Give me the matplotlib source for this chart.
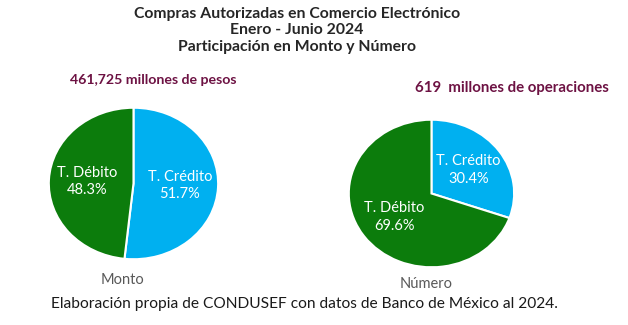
import matplotlib.pyplot as plt
import numpy as np

plt.rcParams['font.family'] = ['Lato', 'DejaVu Sans']

tipos = ["T. Crédito", "T. Débito"]
monto_pct = [51.7, 48.3]
numero_pct = [30.4, 69.6]
colores = ["#00b0f0", "#0c7c0c"]

titulo = "Compras Autorizadas en Comercio Electrónico\nEnero - Junio 2024\nParticipación en Monto y Número"
total_monto = "461,725 millones de pesos"
total_numero = "619  millones de operaciones"
fuente = "Elaboración propia de CONDUSEF con datos de Banco de México al 2024."

fig = plt.figure(figsize=(6.28, 3.25), dpi=100)
fig.patch.set_facecolor("white")


def dibujar_pie(rect, valores, nombre, pos_nombre):
    ax = fig.add_axes(rect)
    wedges, _ = ax.pie(valores, colors=colores, startangle=90, counterclock=False,
                       wedgeprops=dict(edgecolor="white", linewidth=1.5))
    ax.set_aspect("auto")
    ax.set_xlim(-1.01, 1.01)
    ax.set_ylim(-1.01, 1.01)
    for w, etiqueta, v in zip(wedges, tipos, valores):
        ang = np.deg2rad((w.theta1 + w.theta2) / 2)
        r = 0.55
        ax.text(r * np.cos(ang), r * np.sin(ang), f"{etiqueta}\n{v:.1f}%",
                ha="center", va="center", color="white", fontsize=10.5, linespacing=1.3)
    fig.text(pos_nombre[0], pos_nombre[1], nombre, ha="center", va="center",
             color="#595959", fontsize=10.5)
    return ax


dibujar_pie([0.0764, 0.2, 0.2723, 0.4708], monto_pct, "Monto", (122 / 628, 1 - 280 / 325))
dibujar_pie([0.5541, 0.1754, 0.2659, 0.4585], numero_pct, "Número", (426 / 628, 1 - 284 / 325))

fig.text(297 / 628, 1 - 30.5 / 325, titulo, ha="center", va="center", fontsize=11.3,
         fontweight="bold", color="#262626", linespacing=1.2)
fig.text(70 / 628, 1 - 80 / 325, total_monto, ha="left", va="center", fontsize=10.2,
         fontweight="bold", color="#6d1243")
fig.text(609 / 628, 1 - 88 / 325, total_numero, ha="right", va="center", fontsize=10.8,
         fontweight="bold", color="#6d1243")
fig.text(304 / 628, 1 - 304 / 325, fuente, ha="center", va="center", fontsize=11.2,
         color="#1a1a1a")

fig.savefig("out.png", dpi=100)
